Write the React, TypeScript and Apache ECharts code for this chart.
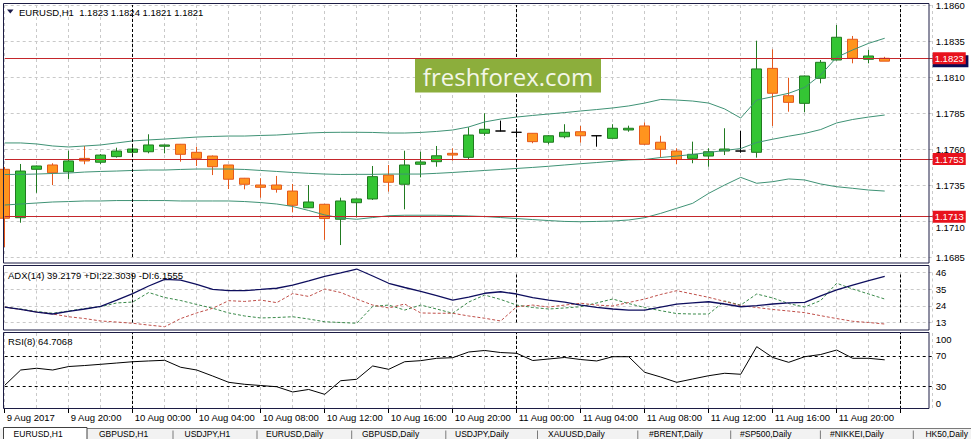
import React, { useEffect, useRef } from 'react';
import * as echarts from 'echarts';

// ---------- data ----------
const CATS = [
  '9 Aug 16:00', '9 Aug 17:00', '9 Aug 18:00', '9 Aug 19:00', '9 Aug 20:00', '9 Aug 21:00', '9 Aug 22:00', '9 Aug 23:00',
  '10 Aug 00:00', '10 Aug 01:00', '10 Aug 02:00', '10 Aug 03:00', '10 Aug 04:00', '10 Aug 05:00', '10 Aug 06:00', '10 Aug 07:00',
  '10 Aug 08:00', '10 Aug 09:00', '10 Aug 10:00', '10 Aug 11:00', '10 Aug 12:00', '10 Aug 13:00', '10 Aug 14:00', '10 Aug 15:00',
  '10 Aug 16:00', '10 Aug 17:00', '10 Aug 18:00', '10 Aug 19:00', '10 Aug 20:00', '10 Aug 21:00', '10 Aug 22:00', '10 Aug 23:00',
  '11 Aug 00:00', '11 Aug 01:00', '11 Aug 02:00', '11 Aug 03:00', '11 Aug 04:00', '11 Aug 05:00', '11 Aug 06:00', '11 Aug 07:00',
  '11 Aug 08:00', '11 Aug 09:00', '11 Aug 10:00', '11 Aug 11:00', '11 Aug 12:00', '11 Aug 13:00', '11 Aug 14:00', '11 Aug 15:00',
  '11 Aug 16:00', '11 Aug 17:00', '11 Aug 18:00', '11 Aug 19:00', '11 Aug 20:00', '11 Aug 21:00', '11 Aug 22:00', '11 Aug 23:00',
  '12 Aug 00:00', '12 Aug 01:00', '12 Aug 02:00',
];
const FIRST_LABEL = '9 Aug 2017';
const LAST_LABELED_INDEX = 52;

const OPEN = [
  1.17459, 1.17123, 1.17459, 1.17489, 1.17442, 1.17535, 1.17508, 1.17547, 1.17577, 1.17581,
  1.17619, 1.17633, 1.17577, 1.17551, 1.17489, 1.17397, 1.1735, 1.1735, 1.17308, 1.17192,
  1.17216, 1.17112, 1.17227, 1.17253, 1.17419, 1.17355, 1.17494, 1.17512, 1.1757, 1.17542,
  1.17709, 1.17725, 1.17716, 1.17709, 1.17647, 1.17685, 1.1772, 1.17692, 1.17674, 1.17732,
  1.1776, 1.17647, 1.17586, 1.17535, 1.17551, 1.17586, 1.17586, 1.17577, 1.1816, 1.1797,
  1.17917, 1.18091, 1.18218, 1.18362, 1.18223, 1.1823,
];
const CLOSE = [
  1.17119, 1.17447, 1.17482, 1.17435, 1.17517, 1.17517, 1.17558, 1.17586, 1.176, 1.17628,
  1.17628, 1.17563, 1.17535, 1.17477, 1.1739, 1.17355, 1.17334, 1.1732, 1.17209, 1.17232,
  1.17117, 1.17239, 1.17253, 1.17408, 1.17369, 1.17489, 1.1751, 1.17553, 1.17558, 1.17697,
  1.17737, 1.17725, 1.17716, 1.17651, 1.17692, 1.17716, 1.17692, 1.17692, 1.17744, 1.17744,
  1.17633, 1.17598, 1.17528, 1.17563, 1.17581, 1.176, 1.17586, 1.18156, 1.17987, 1.17924,
  1.18107, 1.18202, 1.18376, 1.1823, 1.18246, 1.1821,
];
const LOW = [
  1.16919, 1.17088, 1.17296, 1.1735, 1.17392, 1.17494, 1.17494, 1.1754, 1.17558, 1.1757,
  1.1757, 1.17512, 1.17482, 1.17419, 1.17322, 1.1732, 1.17262, 1.17297, 1.1716, 1.1719,
  1.16969, 1.16933, 1.17126, 1.17246, 1.17304, 1.17181, 1.17403, 1.17477, 1.17519, 1.17524,
  1.17692, 1.17722, 1.17681, 1.1764, 1.17633, 1.17674, 1.17644, 1.17616, 1.17673, 1.1772,
  1.17628, 1.1754, 1.17494, 1.17501, 1.17477, 1.17558, 1.17574, 1.1754, 1.1776, 1.17859,
  1.17855, 1.18056, 1.18215, 1.18195, 1.18195, 1.1821,
];
const HIGH = [
  1.17475, 1.17496, 1.17485, 1.17501, 1.17588, 1.17621, 1.17565, 1.17609, 1.17616, 1.17702,
  1.1763, 1.17635, 1.17616, 1.17555, 1.17489, 1.17399, 1.17397, 1.17413, 1.17357, 1.1735,
  1.17218, 1.17262, 1.17256, 1.17482, 1.17489, 1.17588, 1.17581, 1.17621, 1.17605, 1.17751,
  1.17848, 1.17797, 1.17744, 1.17711, 1.17697, 1.17772, 1.1776, 1.17694, 1.17772, 1.17762,
  1.17785, 1.17692, 1.17605, 1.17651, 1.17605, 1.17744, 1.17727, 1.18352, 1.18292, 1.18095,
  1.1811, 1.18218, 1.18461, 1.18385, 1.18288, 1.1824,
];

const BB_UPPER = [
  1.17642, 1.17642, 1.17635, 1.17621, 1.17614, 1.17621, 1.17628, 1.17642, 1.17656, 1.17663,
  1.17669, 1.17676, 1.17683, 1.17687, 1.1769, 1.1769, 1.17694, 1.17697, 1.17704, 1.17711,
  1.17715, 1.17716, 1.17716, 1.17715, 1.17711, 1.17711, 1.17715, 1.17722, 1.17732, 1.17753,
  1.17788, 1.17808, 1.17822, 1.17833, 1.17843, 1.17853, 1.17864, 1.17874, 1.17885, 1.17899,
  1.17919, 1.17944, 1.1794, 1.17933, 1.17919, 1.17878, 1.17815, 1.1794, 1.17963, 1.17987,
  1.18028, 1.18114, 1.18237, 1.18288, 1.18334, 1.18369,
];
const BB_MIDDLE = [
  1.17423, 1.17424, 1.17426, 1.1743, 1.17433, 1.1744, 1.17444, 1.17447, 1.17451, 1.17454,
  1.17454, 1.17458, 1.17461, 1.17461, 1.17461, 1.17458, 1.17451, 1.17444, 1.17437, 1.17431,
  1.17426, 1.17423, 1.17424, 1.17424, 1.17426, 1.17426, 1.17426, 1.17431, 1.17437, 1.17444,
  1.17451, 1.17458, 1.17465, 1.17472, 1.1748, 1.17489, 1.17498, 1.17506, 1.17515, 1.17524,
  1.17527, 1.17541, 1.17551, 1.17562, 1.17576, 1.1759, 1.17603, 1.17645, 1.17668, 1.17689,
  1.17708, 1.17735, 1.17781, 1.17805, 1.17822, 1.17836,
];
const BB_LOWER = [
  1.17211, 1.17218, 1.17225, 1.17232, 1.17235, 1.17239, 1.17239, 1.17242, 1.17242, 1.17242,
  1.17242, 1.17239, 1.17239, 1.17239, 1.17239, 1.17235, 1.17228, 1.17218, 1.17201, 1.17173,
  1.17142, 1.17121, 1.17112, 1.17124, 1.17137, 1.1714, 1.1714, 1.1714, 1.17138, 1.17135,
  1.17131, 1.17124, 1.17117, 1.1711, 1.17103, 1.17097, 1.17095, 1.17097, 1.171, 1.17107,
  1.17123, 1.17153, 1.17188, 1.17223, 1.17292, 1.1735, 1.17403, 1.17362, 1.17373, 1.17392,
  1.17385, 1.17357, 1.17338, 1.17327, 1.17315, 1.17308,
];

const ADX = [
  23.2, 21.6, 19.9, 18.6, 20.3, 21.9, 23.6, 27.8, 32.1, 37.1,
  41.5, 41.0, 38.1, 34.9, 34.0, 34.1, 34.8, 35.6, 37.7, 40.4,
  43.4, 45.7, 48.3, 43.7, 38.9, 36.1, 33.5, 30.8, 27.8, 29.8,
  32.3, 33.3, 31.8, 29.4, 27.8, 26.5, 24.5, 23.0, 21.9, 21.2,
  21.2, 23.2, 25.1, 25.9, 26.7, 25.2, 23.4, 24.2, 25.2, 25.9,
  26.3, 30.6, 34.5, 37.7, 40.7, 43.5,
];
const PLUS_DI = [
  23.2, 21.9, 20.3, 19.1, 20.6, 22.2, 23.4, 25.9, 26.5, 32.8,
  29.5, 27.5, 24.9, 22.4, 19.3, 17.3, 16.0, 16.3, 16.8, 15.3,
  13.5, 13.0, 12.5, 23.6, 24.5, 21.2, 24.5, 21.9, 19.1, 26.5,
  31.1, 28.2, 24.5, 22.9, 21.9, 22.6, 23.4, 25.9, 28.5, 25.5,
  22.9, 20.8, 18.9, 18.6, 18.6, 27.2, 24.5, 31.8, 29.2, 25.5,
  23.2, 27.5, 38.9, 35.1, 31.8, 28.5,
];
const MINUS_DI = [
  23.2, 21.6, 19.9, 18.6, 16.8, 15.6, 14.0, 13.3, 12.5, 11.3,
  10.2, 15.6, 19.3, 22.4, 27.4, 26.9, 27.8, 26.1, 32.1, 30.2,
  35.1, 32.8, 28.5, 24.5, 22.6, 25.2, 19.3, 19.1, 19.1, 17.3,
  15.8, 14.0, 23.4, 24.5, 23.2, 24.5, 25.7, 24.5, 23.9, 26.2,
  28.5, 31.5, 34.0, 31.8, 29.6, 26.9, 24.1, 22.9, 21.6, 20.6,
  19.5, 17.5, 15.6, 13.8, 13.0, 12.0,
];
const RSI = [
  31.1, 51.3, 53.6, 51.3, 55.9, 57.2, 58.8, 60.5, 62.2, 63.2,
  64.1, 54.9, 51.3, 43.4, 35.1, 32.5, 30.9, 29.3, 22.4, 25.7,
  19.3, 37.2, 39.1, 56.6, 52.2, 62.2, 63.6, 66.7, 67.5, 75.0,
  77.0, 74.3, 73.3, 63.8, 65.8, 67.8, 65.1, 63.2, 68.8, 68.8,
  48.3, 42.1, 35.1, 39.5, 43.8, 47.0, 45.7, 82.0, 67.8, 61.4,
  68.8, 71.7, 77.6, 66.7, 66.7, 64.7,
];

const LEVELS = [1.1823, 1.1753, 1.1713];
const BID = 1.1821;
const SEPARATORS = ['10 Aug 00:00', '11 Aug 00:00', '12 Aug 00:00'];
const PRICE_MIN = 1.1685;
const PRICE_MAX = 1.186;
const PRICE_STEP = 0.0025;
const ADX_MIN = 13;
const ADX_MAX = 46;
const ADX_STEP = 11;
const RSI_LEVELS = [30, 70];
const RSI_TICKS = [0, 30, 70, 100];

const TITLE = 'EURUSD,H1  1.1823 1.1824 1.1821 1.1821';
const ADX_TITLE = 'ADX(14) 39.2179 +DI:22.3039 -DI:6.1555';
const RSI_TITLE = 'RSI(8) 64.7068';
const WATERMARK = 'freshforex.com';
const TABS = ['EURUSD,H1', 'GBPUSD,H1', 'USDJPY,H1', 'EURUSD,Daily', 'GBPUSD,Daily', 'USDJPY,Daily',
  'XAUUSD,Daily', '#BRENT,Daily', '#SP500,Daily', '#NIKKEI,Daily', 'HK50,Daily'];

// ---------- style ----------
const FONT = '"Liberation Sans", Arial, sans-serif';
const FS = 9.5;
const GRID_LINE = { color: '#c9c9c9', type: [3, 3] as any, width: 1 };
const FRAME = '#1c1c44';
const SEP_STYLE = { color: '#000', type: [3, 2] as any, width: 1 };

const TAB_X = [13.6, 99, 184.5, 266, 362, 455, 548, 649, 740, 830, 922];
const TAB_SEP_X = [173, 257, 351.7, 445.8, 537.5, 637.8, 730.7, 820.4, 913.3];

function sepLines() {
  return SEPARATORS.map((c) => ({ xAxis: c, lineStyle: SEP_STYLE, label: { show: false } }));
}

export default function App() {
  const ref = useRef<HTMLDivElement>(null);
  useEffect(() => {
    if (!ref.current) return;
    const chart = echarts.init(ref.current, null, { renderer: 'svg' });
    const candle = OPEN.map((o, i) => [o, CLOSE[i], LOW[i], HIGH[i]]);

    const gridCommon = { left: 4.7, width: 928 };
    const xBase = (gi: number, showLabels: boolean) => ({
      type: 'category',
      gridIndex: gi,
      data: CATS,
      boundaryGap: false,
      axisLine: { show: false },
      axisTick: showLabels
        ? { show: true, interval: 3, length: 4, lineStyle: { color: '#000' } }
        : { show: false },
      axisLabel: showLabels
        ? {
            show: true,
            interval: 3,
            align: 'left',
            margin: 3,
            padding: [0, 0, 0, 2],
            fontSize: FS,
            fontFamily: FONT,
            color: '#000',
            formatter: (v: string, i: number) => (i === 0 ? FIRST_LABEL : i <= LAST_LABELED_INDEX ? v : ''),
          }
        : { show: false },
      splitLine: { show: true, interval: 1, lineStyle: GRID_LINE },
    });
    const yLabel = { fontSize: FS, fontFamily: FONT, color: '#000', margin: 3 };

    const levelLabel = (bg: string, txt: string) => ({
      show: true,
      position: 'end',
      distance: 0,
      formatter: txt,
      backgroundColor: bg,
      color: '#fff',
      padding: [1, 2, 1, 2],
      fontSize: FS,
      fontFamily: FONT,
    });

    const bandStyle = { color: '#3f9275', width: 1 };

    const option: any = {
      animation: false,
      backgroundColor: '#fff',
      grid: [
        { ...gridCommon, top: 5, height: 252 },
        { ...gridCommon, top: 272.5, height: 50 },
        { ...gridCommon, top: 333, height: 76 },
      ],
      xAxis: [xBase(0, false), xBase(1, false), xBase(2, true)],
      yAxis: [
        {
          type: 'value', gridIndex: 0, position: 'right', min: PRICE_MIN, max: PRICE_MAX, interval: PRICE_STEP,
          axisLine: { show: false }, axisTick: { show: false },
          axisLabel: {
            ...yLabel,
            formatter: (v: number) => {
              const t = v.toFixed(4);
              // a level label sits just above this tick: the tick label peeks out below it
              return LEVELS.some((l) => l > v && l - v < 0.0005) ? `{low|${t}}` : t;
            },
            rich: { low: { padding: [13, 0, 0, 0], fontSize: FS, fontFamily: FONT, color: '#000' } },
          },
          splitLine: { show: true, lineStyle: GRID_LINE },
        },
        {
          type: 'value', gridIndex: 1, position: 'right', min: ADX_MIN, max: ADX_MAX, interval: ADX_STEP,
          axisLine: { show: false }, axisTick: { show: false },
          axisLabel: { ...yLabel, formatter: (v: number) => String(Math.round(v)) },
          splitLine: { show: true, lineStyle: GRID_LINE },
        },
        {
          type: 'value', gridIndex: 2, position: 'right', min: 0, max: 100, interval: 10,
          axisLine: { show: false }, axisTick: { show: false },
          axisLabel: {
            ...yLabel,
            formatter: (v: number) => {
              const r = Math.round(v);
              if (!RSI_TICKS.includes(r)) return '';
              if (r === 100) return '{top|100}';
              if (r === 0) return '{bot|0}';
              return String(r);
            },
            rich: {
              top: { padding: [12, 0, 0, 0], fontSize: FS, fontFamily: FONT, color: '#000' },
              bot: { padding: [0, 0, 12, 0], fontSize: FS, fontFamily: FONT, color: '#000' },
            },
          },
          splitLine: { show: false },
        },
      ],
      series: [
        {
          type: 'candlestick',
          xAxisIndex: 0,
          yAxisIndex: 0,
          data: candle,
          barWidth: 10,
          clip: true,
          itemStyle: {
            color: '#34c534',
            color0: '#ff941e',
            borderColor: '#217a21',
            borderColor0: '#e4581c',
            borderColorDoji: '#000000',
            borderWidth: 1,
          },
          z: 2,
        },
        {
          type: 'line', xAxisIndex: 0, yAxisIndex: 0, data: BB_UPPER, showSymbol: false, symbol: 'none',
          lineStyle: bandStyle, z: 3,
        },
        {
          type: 'line', xAxisIndex: 0, yAxisIndex: 0, data: BB_MIDDLE, showSymbol: false, symbol: 'none',
          lineStyle: bandStyle, z: 3,
          markLine: {
            silent: true,
            symbol: ['none', 'none'],
            animation: false,
            precision: 5,
            data: [
              // bid price box, mostly hidden behind the 1.1823 level box
              { yAxis: BID, lineStyle: { color: 'rgba(0,0,0,0)', width: 0 }, label: levelLabel('#0c0c55', '\u2007\u2007\u2007\u2007\u2007\u2007') },
              ...LEVELS.map((l) => ({
                yAxis: l,
                lineStyle: { color: '#c4262b', width: 1.2, type: 'solid' },
                label: levelLabel('#e8121c', l.toFixed(4)),
              })),
              ...sepLines(),
            ],
          },
        },
        {
          type: 'line', xAxisIndex: 0, yAxisIndex: 0, data: BB_LOWER, showSymbol: false, symbol: 'none',
          lineStyle: bandStyle, z: 3,
        },
        {
          type: 'line', xAxisIndex: 1, yAxisIndex: 1, data: ADX, showSymbol: false, symbol: 'none', clip: false,
          lineStyle: { color: '#0e0e5e', width: 1.3 }, z: 4,
          markLine: { silent: true, symbol: ['none', 'none'], animation: false, data: sepLines() },
        },
        {
          type: 'line', xAxisIndex: 1, yAxisIndex: 1, data: PLUS_DI, showSymbol: false, symbol: 'none', clip: false,
          lineStyle: { color: '#3a8a4a', width: 1, type: [3, 2] }, z: 3,
        },
        {
          type: 'line', xAxisIndex: 1, yAxisIndex: 1, data: MINUS_DI, showSymbol: false, symbol: 'none', clip: false,
          lineStyle: { color: '#c0504a', width: 1, type: [3, 2] }, z: 3,
        },
        {
          type: 'line', xAxisIndex: 2, yAxisIndex: 2, data: RSI, showSymbol: false, symbol: 'none', clip: false,
          lineStyle: { color: '#000', width: 1 }, z: 3,
          markLine: {
            silent: true, symbol: ['none', 'none'], animation: false,
            data: [
              ...RSI_LEVELS.map((l) => ({ yAxis: l, lineStyle: { color: '#000', type: [3, 3], width: 1 }, label: { show: false } })),
              ...sepLines(),
            ],
          },
        },
      ],
      graphic: [
        // frames
        { type: 'rect', shape: { x: 3.5, y: 3.5, width: 925.5, height: 259.5 }, style: { fill: 'none', stroke: FRAME, lineWidth: 1 }, z: 50, silent: true },
        { type: 'rect', shape: { x: 3.5, y: 265.5, width: 925.5, height: 64.5 }, style: { fill: 'none', stroke: FRAME, lineWidth: 1 }, z: 50, silent: true },
        { type: 'rect', shape: { x: 3.5, y: 332.5, width: 925.5, height: 76 }, style: { fill: 'none', stroke: FRAME, lineWidth: 1 }, z: 50, silent: true },
        // title
        { type: 'polygon', shape: { points: [[7, 9.5], [13.5, 9.5], [10.25, 13.5]] }, style: { fill: '#1a1a4a' }, z: 60, silent: true },
        { type: 'text', x: 19, y: 12, style: { text: TITLE, font: `${FS}px ${FONT}`, fill: '#000', align: 'left', verticalAlign: 'middle', textAlign: 'left', textVerticalAlign: 'middle' }, z: 60, silent: true },
        { type: 'text', x: 8, y: 275, style: { text: ADX_TITLE, font: `${FS}px ${FONT}`, fill: '#000', align: 'left', verticalAlign: 'middle', textAlign: 'left', textVerticalAlign: 'middle' }, z: 60, silent: true },
        { type: 'text', x: 8, y: 341.5, style: { text: RSI_TITLE, font: `${FS}px ${FONT}`, fill: '#000', align: 'left', verticalAlign: 'middle', textAlign: 'left', textVerticalAlign: 'middle' }, z: 60, silent: true },
        // watermark
        { type: 'rect', shape: { x: 415, y: 59, width: 186, height: 33.5 }, style: { fill: '#8cae3c' }, z: 40, silent: true },
        { type: 'text', x: 508, y: 76, style: { text: WATERMARK, font: `24px "Open Sans", sans-serif`, fill: '#f3f6e8', align: 'center', verticalAlign: 'middle', textAlign: 'center', textVerticalAlign: 'middle' }, z: 41, silent: true },
        // tab bar
        { type: 'rect', shape: { x: 0, y: 428.5, width: 971, height: 11 }, style: { fill: '#f2f2f2' }, z: 45, silent: true },
        { type: 'line', shape: { x1: 87, y1: 428.5, x2: 971, y2: 428.5 }, style: { stroke: '#7a7a7a', lineWidth: 1 }, z: 46, silent: true },
        { type: 'rect', shape: { x: 3.5, y: 427.5, width: 83.5, height: 13 }, style: { fill: '#fff', stroke: '#404040', lineWidth: 1 }, z: 46, silent: true },
        ...TAB_SEP_X.map((x) => ({ type: 'line', shape: { x1: x, y1: 430.5, x2: x, y2: 439 }, style: { stroke: '#7a7a7a', lineWidth: 1 }, z: 46, silent: true })),
        ...TABS.slice(0, 10).map((t, i) => ({
          type: 'text', x: TAB_X[i], y: 434.2,
          style: { text: t, font: `8.5px ${FONT}`, fill: '#000', align: 'left', verticalAlign: 'middle', textAlign: 'left', textVerticalAlign: 'middle' },
          z: 47, silent: true,
        })),
        {
          type: 'text', x: 968, y: 434.2,
          style: { text: TABS[10], font: `8.5px ${FONT}`, fill: '#000', align: 'right', verticalAlign: 'middle', textAlign: 'right', textVerticalAlign: 'middle' },
          z: 47, silent: true,
        },
      ],
    };
    chart.setOption(option);
    return () => chart.dispose();
  }, []);
  return (
    <div
      ref={ref}
      style={{ position: 'fixed', left: 0, top: 0, width: 971, height: 439, background: '#fff' }}
    />
  );
}
